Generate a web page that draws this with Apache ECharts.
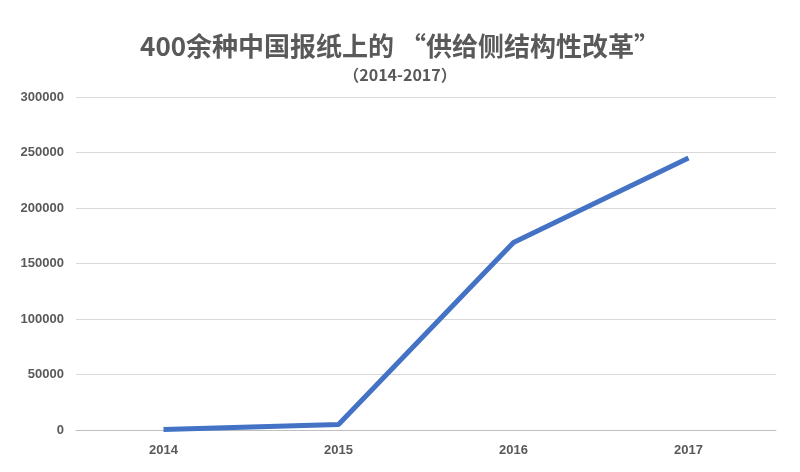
<!DOCTYPE html><html><head><meta charset="utf-8"><script src="https://cdn.jsdelivr.net/npm/echarts@6/dist/echarts.min.js"></script></head><body style="margin:0;background:#fff"><div id="c" style="width:800px;height:472px"></div><script>
const categories=['2014','2015','2016','2017'];
const values=[500,5000,169000,245000];
const chart=echarts.init(document.getElementById('c'));
chart.setOption({
 animation:false,
 title:{text:'400余种中国报纸上的 “供给侧结构性改革”',subtext:'（2014-2017）',left:'center',top:28,itemGap:8,
  textStyle:{fontSize:26,fontWeight:'bold',color:'#595959',fontFamily:'Noto Sans CJK SC'},
  subtextStyle:{fontSize:16,fontWeight:'bold',color:'#595959',fontFamily:'Noto Sans CJK SC'}},
 grid:{left:76,right:24,top:97,bottom:42},
 xAxis:{type:'category',data:categories,boundaryGap:true,axisTick:{show:false},axisLine:{lineStyle:{color:'#bfbfbf'}},
  axisLabel:{color:'#595959',fontSize:13,fontWeight:'bold',margin:14}},
 yAxis:{type:'value',min:0,max:300000,interval:50000,axisLabel:{color:'#595959',fontSize:13,fontWeight:'bold',margin:12,formatter:v=>String(v)},
  splitLine:{lineStyle:{color:'#d9d9d9'}}},
 series:[{type:'line',data:values,showSymbol:false,lineStyle:{width:5,color:'#4472C4'},itemStyle:{color:'#4472C4'}}]
});
</script></body></html>
